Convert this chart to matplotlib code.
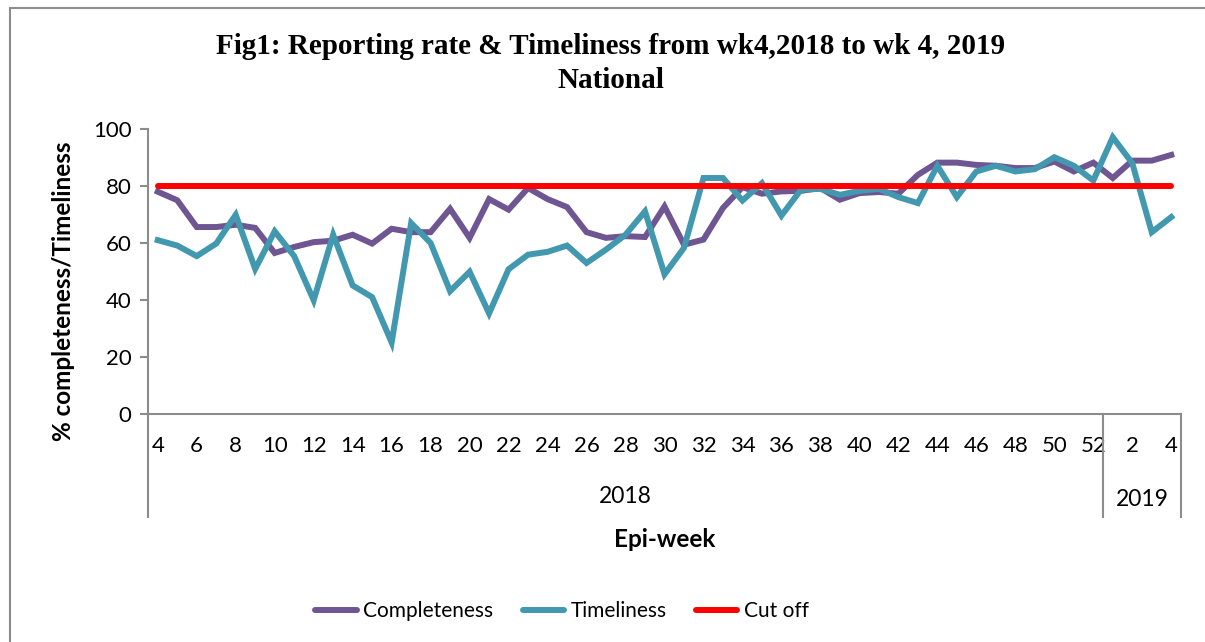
import matplotlib.pyplot as plt
from matplotlib.patches import Rectangle
import matplotlib.transforms as mtransforms

# epi-weeks: wk4..52 of 2018, then wk1..4 of 2019
weeks_2018 = list(range(4, 53))
weeks_2019 = [1, 2, 3, 4]
weeks = weeks_2018 + weeks_2019

completeness = [78, 75, 65.6, 65.6, 66.4, 65.3, 56.5, 58.6, 60.3, 60.8,
                62.9, 59.8, 65, 63.8, 63.8, 72, 61.8, 75.4, 71.7, 79.3,
                75.4, 72.6, 63.8, 61.8, 62.4, 62.1, 72.8, 59.4, 61.2, 72.3,
                79.6, 77.3, 78.1, 78.3, 79.3, 75.2, 77.5, 77.9, 77.3, 83.9,
                88.2, 88.2, 87.4, 87.1, 86.3, 86.3, 88.6, 85.1, 88.2, 82.8,
                88.9, 88.9, 90.9]
timeliness = [61, 59.1, 55.4, 59.8, 69.9, 50.9, 64.1, 55.4, 39.9, 62.9,
              45.1, 41, 25.1, 67, 60, 43.1, 49.9, 35.3, 50.8, 55.9,
              56.9, 59.1, 53, 57.7, 62.9, 71.1, 49, 58.3, 82.8, 82.8,
              74.9, 81, 69.6, 78.7, 79, 76.9, 78.3, 79, 76.1, 74,
              87.1, 76.1, 85.1, 87.1, 85.1, 85.9, 90.1, 87.1, 81.9, 97.1,
              88, 63.8, 69.1]
cutoff = [80] * len(weeks)

years = ["2018", "2019"]

purple = "#6F5592"
teal = "#4198AF"
red = "#FF0000"
grey = "#8C8C8C"
sans = "Lato"

fig = plt.figure(figsize=(12.05, 6.42), dpi=100)
ax = fig.add_axes([148 / 1205, 1 - 414 / 642, (1181 - 148) / 1205, (414 - 129) / 642])

x = list(range(len(weeks)))
ax.plot(x, completeness, color=purple, lw=4.3, label="Completeness", solid_joinstyle="miter")
ax.plot(x, timeliness, color=teal, lw=4.3, label="Timeliness", solid_joinstyle="miter")
ax.plot(x, cutoff, color=red, lw=4.3, label="Cut off", solid_capstyle="round")

ax.set_xlim(-0.5, len(weeks) - 0.5)
ax.set_ylim(0, 100)
ax.set_yticks(range(0, 101, 20))
ax.set_xticks(x[::2])
ax.set_xticklabels([str(w) for w in weeks[::2]])

for s in ["top", "right"]:
    ax.spines[s].set_visible(False)
for s in ["left", "bottom"]:
    ax.spines[s].set_color(grey)
    ax.spines[s].set_linewidth(1.5)

ax.tick_params(axis="y", length=6, width=1.5, color=grey, pad=6, labelsize=16)
ax.tick_params(axis="x", length=0, pad=16, labelsize=16)
for lab in ax.get_xticklabels() + ax.get_yticklabels():
    lab.set_fontfamily(sans)

# year group separators and labels
trans = mtransforms.blended_transform_factory(ax.transData, ax.transAxes)
n18 = len(weeks_2018)
for b in [-0.5, n18 - 0.5, len(weeks) - 0.5]:
    ax.plot([b, b], [0, -0.36], color=grey, lw=1.5, transform=trans, clip_on=False)
ax.text((n18 - 1) / 2, -0.29, years[0], transform=trans, ha="center", va="center",
        fontsize=16.5, fontfamily=sans)
ax.text(n18 + (len(weeks_2019) - 1) / 2, -0.30, years[1], transform=trans, ha="center",
        va="center", fontsize=16.5, fontfamily=sans)

ax.set_xlabel("Epi-week", fontsize=17.5, fontweight="bold", fontfamily=sans, labelpad=0)
ax.xaxis.set_label_coords(0.5, -0.40)
ax.set_ylabel("% completeness/Timeliness", fontsize=17.5, fontweight="bold", fontfamily=sans)
ax.yaxis.set_label_coords(-0.071, 0.432)

fig.text(611 / 1205, 1 - 46 / 642, "Fig1: Reporting rate & Timeliness from wk4,2018 to wk 4, 2019",
         ha="center", va="center", fontsize=21, fontweight="bold", fontfamily="Liberation Serif")
fig.text(611 / 1205, 1 - 81 / 642, "National",
         ha="center", va="center", fontsize=21, fontweight="bold", fontfamily="Liberation Serif")

leg = fig.legend(loc="center", bbox_to_anchor=(562 / 1205, 1 - 611 / 642), ncol=3, frameon=False,
                 prop={"family": sans, "size": 15}, handlelength=2.0, handletextpad=0.3,
                 columnspacing=1.4)
for line in leg.get_lines():
    line.set_solid_capstyle("round")

# outer chart border
fig.patches.append(Rectangle((10 / 1205, -0.1), 1.2, 1.1 - 8 / 642, transform=fig.transFigure,
                             fill=False, edgecolor=grey, lw=1.5))

fig.savefig("out.png", dpi=100)
